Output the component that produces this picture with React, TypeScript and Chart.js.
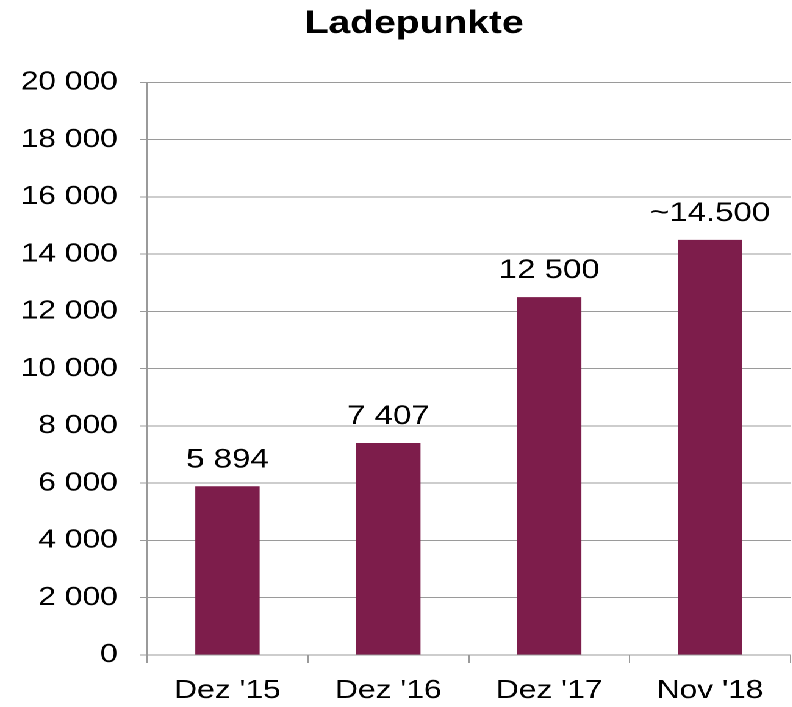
import React, { useEffect, useRef } from "react";
import { Chart, registerables } from "chart.js";

Chart.register(...registerables);

const categories: string[] = ["Dez '15", "Dez '16", "Dez '17", "Nov '18"];
const values: number[] = [5894, 7407, 12500, 14500];
const valueLabels: string[] = ["5 894", "7 407", "12 500", "~14.500"];
const yTickLabels: string[] = ["0", "2 000", "4 000", "6 000", "8 000", "10 000", "12 000", "14 000", "16 000", "18 000", "20 000"];
const chartTitle = "Ladepunkte";

const STRETCH = 1.22;
const W = 649;
const H = 707;
const FONT = "'Liberation Sans', Arial, sans-serif";
const GRID = "#9a9a9a";

const valueLabelPlugin = {
  id: "valueLabels",
  afterLayout(chart: any) {
    const tb = chart.titleBlock;
    if (tb) {
      tb.left = 31;
      tb.right = 648;
    }
  },
  afterDatasetsDraw(chart: any) {
    const ctx = chart.ctx;
    const meta = chart.getDatasetMeta(0);
    ctx.save();
    ctx.font = `27px ${FONT}`;
    ctx.fillStyle = "#000";
    ctx.textAlign = "center";
    ctx.textBaseline = "alphabetic";
    meta.data.forEach((bar: any, i: number) => {
      ctx.fillText(valueLabels[i], bar.x, bar.y - 19);
    });
    ctx.restore();
  },
};

export default function App() {
  const ref = useRef<HTMLCanvasElement>(null);
  useEffect(() => {
    if (!ref.current) return;
    const chart = new Chart(ref.current, {
      type: "bar",
      data: {
        labels: categories,
        datasets: [
          {
            data: values,
            backgroundColor: "#7d1d4b",
            borderWidth: 0,
            barPercentage: 0.4,
            categoryPercentage: 1,
          },
        ],
      },
      options: {
        animation: false,
        responsive: false,
        devicePixelRatio: 2,
        layout: { padding: { left: 0, right: 1, top: 0, bottom: 0 } },
        plugins: {
          legend: { display: false },
          tooltip: { enabled: false },
          title: {
            display: true,
            text: chartTitle,
            color: "#000",
            font: { family: FONT, size: 32, weight: "bold" },
            padding: { top: 5, bottom: 39 },
          },
        },
        scales: {
          x: {
            afterFit: (scale: any) => {
              scale.height = 52;
            },
            grid: {
              offset: true,
              drawOnChartArea: false,
              drawTicks: true,
              tickLength: 8,
              color: GRID,
            },
            border: { color: GRID, width: 1 },
            ticks: {
              color: "#000",
              font: { family: FONT, size: 26 },
              padding: 12,
              maxRotation: 0,
            },
          },
          y: {
            min: 0,
            max: 20000,
            afterFit: (scale: any) => {
              scale.width = 120.5;
            },
            grid: {
              color: GRID,
              drawTicks: true,
              tickLength: 6,
            },
            border: { color: GRID, width: 1 },
            ticks: {
              stepSize: 2000,
              color: "#000",
              font: { family: FONT, size: 26 },
              padding: 18,
              callback: (_v: any, i: number) => yTickLabels[i],
            },
          },
        },
      },
      plugins: [valueLabelPlugin],
    });
    return () => chart.destroy();
  }, []);

  return (
    <div
      style={{
        position: "absolute",
        left: 0,
        top: 0,
        width: W,
        height: H,
        transform: `scaleX(${STRETCH})`,
        transformOrigin: "0 0",
        background: "#fff",
      }}
    >
      <canvas ref={ref} width={W} height={H} style={{ width: W, height: H, display: "block" }} />
    </div>
  );
}
